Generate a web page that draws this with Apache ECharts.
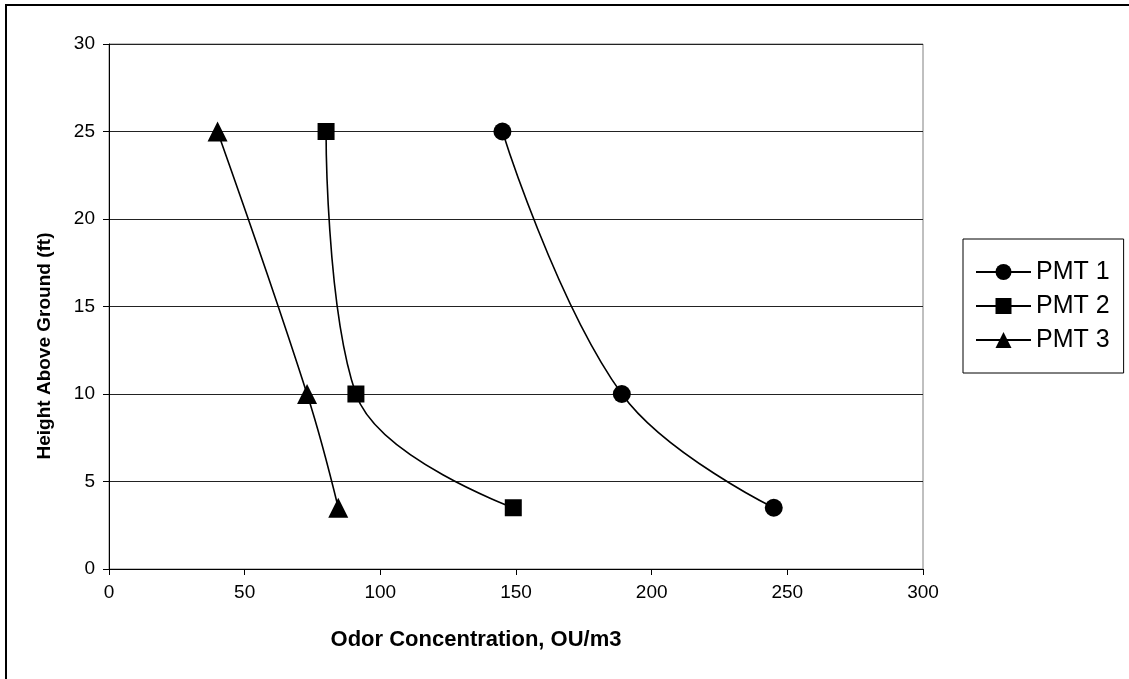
<!DOCTYPE html>
<html>
<head>
<meta charset="utf-8">
<script src="https://cdn.jsdelivr.net/npm/echarts@6/dist/echarts.min.js"></script>
<style>
html,body{margin:0;padding:0;background:#fff;}
#chart{width:1129px;height:679px;}
</style>
</head>
<body>
<div id="chart"></div>
<script>
const heights = [25, 10, 3.5];
const pmt1 = [145, 189, 245];
const pmt2 = [80, 91, 149];
const pmt3 = [40, 73, 84.5];
const seriesNames = ['PMT 1', 'PMT 2', 'PMT 3'];
const xTitle = 'Odor Concentration, OU/m3';
const yTitle = 'Height Above Ground (ft)';

const FONT = '"Liberation Sans", Arial, sans-serif';
const symbols = ['circle', 'rect', 'triangle'];
const sizes = [18, 17, 20];
const values = [pmt1, pmt2, pmt3];

const chart = echarts.init(document.getElementById('chart'), null, {renderer: 'canvas'});
chart.setOption({
  animation: false,
  backgroundColor: '#fff',
  graphic: [{
    type: 'rect', z: -1,
    shape: {x: 6, y: 5, width: 1140, height: 700},
    style: {fill: 'none', stroke: '#000', lineWidth: 2}
  }, {
    type: 'text', x: 476, y: 640,
    style: {text: xTitle, font: 'bold 22px ' + FONT, fill: '#000', align: 'center', verticalAlign: 'middle'}
  }, {
    type: 'text', x: 45, y: 346, rotation: Math.PI / 2,
    style: {text: yTitle, font: 'bold 19px ' + FONT, fill: '#000', align: 'center', verticalAlign: 'middle'}
  }],
  grid: {left: 109, top: 44, right: 206, bottom: 110, show: true, borderColor: '#808080', borderWidth: 1},
  legend: {
    orient: 'vertical', left: 963, top: 239,
    data: seriesNames,
    itemWidth: 55, itemHeight: 20, itemGap: 8,
    padding: [20, 14, 20, 12],
    borderColor: '#000', borderWidth: 1,
    textStyle: {fontFamily: FONT, fontSize: 25, color: '#000', lineHeight: 26}
  },
  xAxis: {
    type: 'value', min: 0, max: 300, interval: 50,
    axisLine: {show: true, lineStyle: {color: '#000', width: 1}},
    axisTick: {show: true, length: 6, inside: false, lineStyle: {color: '#000'}},
    axisLabel: {fontFamily: FONT, fontSize: 19, color: '#000', margin: 14},
    splitLine: {show: false}
  },
  yAxis: {
    type: 'value', min: 0, max: 30, interval: 5,
    axisLine: {show: true, lineStyle: {color: '#000', width: 1}},
    axisTick: {show: true, length: 6, inside: false, lineStyle: {color: '#000'}},
    axisLabel: {fontFamily: FONT, fontSize: 19, color: '#000', margin: 14},
    splitLine: {show: true, lineStyle: {color: '#222', width: 1}}
  },
  series: seriesNames.map((name, i) => ({
    name: name,
    type: 'line',
    smooth: 0.4,
    symbol: symbols[i],
    symbolSize: sizes[i],
    showAllSymbol: true,
    itemStyle: {color: '#000', borderWidth: 0},
    lineStyle: {color: '#000', width: 1.6},
    data: values[i].map((v, j) => [v, heights[j]])
  }))
});
</script>
</body>
</html>
